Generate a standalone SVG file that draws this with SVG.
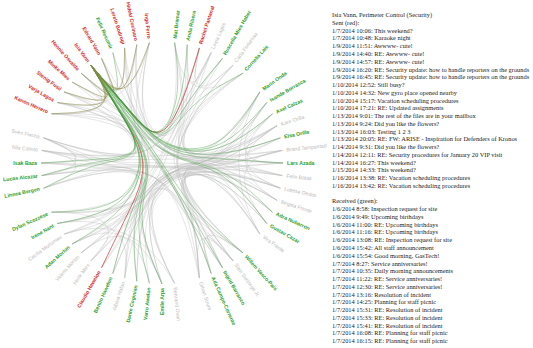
<svg xmlns="http://www.w3.org/2000/svg" width="533" height="348" viewBox="0 0 533 348">
<style>
.nodes{font-family:"Liberation Sans",Arial,sans-serif;font-size:5.2px}
.gr{fill:#bbb}
.s{fill:#2ca02c;font-weight:700}
.t{fill:#d62728;font-weight:700}
.e{text-anchor:end}
.l{fill:none;stroke:#bdbdbd;stroke-opacity:.5;stroke-width:.8}
.lg{fill:none;stroke:#3a9a3a;stroke-opacity:.5;stroke-width:.8}
.lr{fill:none;stroke:#cc3333;stroke-opacity:.8;stroke-width:.9}
.lo{fill:none;stroke:#8a8a45;stroke-opacity:.6;stroke-width:.9}
.info{font-family:"Liberation Serif","Times New Roman",serif;font-size:6.4px;fill:#222}
</style>
<rect width="533" height="348" fill="#fff"/>
<g id="links" transform="translate(162,163)">
<g id="links-all">
<path class="l" d="M-110.5,-49.2 Q-38.1,-47.2 -18.6,-25.4 Q0.8,-3.7 30.8,-2.8 Q60.9,-1.9 121,0"/>
<path class="l" d="M-110.5,-49.2 Q-42.2,-51.7 -24.8,-32.2 Q-7.3,-12.7 5.4,-37.6 Q18.2,-62.4 12.6,-120.3"/>
<path class="l" d="M-104.8,-60.5 Q-37.6,-49.4 -18.3,-27.9 Q1,-6.4 30.9,-5.8 Q60.8,-5.1 118.4,-25.2"/>
<path class="l" d="M-104.8,-60.5 Q-39.3,-44.7 -20.9,-21 Q-2.5,2.8 13.6,28 Q29.8,53.2 71.1,97.9"/>
<path class="l" d="M-97.9,-71.1 Q-45.8,-49.6 -31.1,-27.5 Q-16.4,-5.3 -42.6,-4 Q-68.7,-2.7 -121,0"/>
<path class="l" d="M-97.9,-71.1 Q-36.7,-50.1 -17.5,-28.2 Q1.7,-6.3 31.5,-5.2 Q61.3,-4.1 120.3,-12.6"/>
<path class="l" d="M-89.9,-81 Q-35.8,-50.3 -16.8,-27.7 Q2.3,-5.1 31.9,-3.4 Q61.6,-1.6 120.3,12.6"/>
<path class="l" d="M-89.9,-81 Q-44,-48.1 -29,-24.4 Q-14.1,-0.7 -27.1,24.4 Q-40.1,49.5 -97.9,71.1"/>
<path class="l" d="M-81,-89.9 Q-37.5,-47.6 -19.9,-23 Q-2.4,1.5 12.9,27.6 Q28.2,53.6 49.2,110.5"/>
<path class="l" d="M-81,-89.9 Q-37.5,-55.9 -19.9,-35.4 Q-2.4,-15 10.5,-38.9 Q23.4,-62.8 49.2,-110.5"/>
<path class="l" d="M-60.5,-104.8 Q-32.7,-54.8 -14.3,-32.7 Q4.1,-10.7 33.1,-9.4 Q62.1,-8.1 115.1,-37.4"/>
<path class="l" d="M-60.5,-104.8 Q-41.5,-53.9 -27.5,-31.3 Q-13.6,-8.8 -40.4,-7.1 Q-67.2,-5.3 -120.3,-12.6"/>
<path class="l" d="M-49.2,-110.5 Q-31.4,-52.6 -13.3,-29.1 Q4.9,-5.5 33.7,-2.7 Q62.5,0.1 115.1,37.4"/>
<path class="l" d="M-37.4,-115.1 Q-33,-50.2 -16.5,-25.1 Q0,0 14.3,26.6 Q28.5,53.1 37.4,115.1"/>
<path class="l" d="M-37.4,-115.1 Q-35.8,-50.2 -20.7,-25.1 Q-5.6,0 -18.5,26.6 Q-31.3,53.1 -37.4,115.1"/>
<path class="l" d="M-25.2,-118.4 Q-30.4,-58.6 -13.5,-37.4 Q3.4,-16.2 15.7,-39.3 Q28,-62.5 71.1,-97.9"/>
<path class="l" d="M-25.2,-118.4 Q-28.6,-54 -10.8,-30.5 Q7,-7 35.4,-4.3 Q63.8,-1.6 118.4,25.2"/>
<path class="l" d="M-12.6,-120.3 Q-34.3,-51.5 -20.3,-26.6 Q-6.3,-1.7 -20.2,24.7 Q-34.2,51 -71.1,97.9"/>
<path class="l" d="M-12.6,-120.3 Q-27.9,-52.5 -10.8,-28.1 Q6.4,-3.7 34.2,-0.1 Q61.9,3.5 97.9,71.1"/>
<path class="l" d="M12.6,-120.3 Q25,-56.9 15.6,-29.3 Q6.3,-1.7 20.2,24.7 Q34.2,51 71.1,97.9"/>
<path class="l" d="M12.6,-120.3 Q26.8,-61 18.4,-35.5 Q10,-10 37.7,-7.9 Q65.4,-5.9 120.3,-12.6"/>
<path class="l" d="M25.2,-118.4 Q24.2,-55.8 13.5,-27.8 Q2.8,0.1 -10.3,26.9 Q-23.3,53.6 12.6,120.3"/>
<path class="l" d="M37.4,-115.1 Q28.1,-56.6 18.5,-29.3 Q8.9,-1.9 22.6,24.2 Q36.2,50.3 81,89.9"/>
<path class="l" d="M49.2,-110.5 Q22,-60.4 8.4,-35.3 Q-5.2,-10.2 -34,-8.6 Q-62.9,-7 -118.4,-25.2"/>
<path class="l" d="M49.2,-110.5 Q23.4,-56.1 10.5,-28.8 Q-2.4,-1.5 -17.7,24.5 Q-33,50.5 -81,89.9"/>
<path class="l" d="M60.5,-104.8 Q32.3,-58.8 22.9,-33.3 Q13.6,-7.9 40.5,-5.9 Q67.3,-3.9 121,0"/>
<path class="l" d="M71.1,-97.9 Q31.2,-54.1 20.5,-26.8 Q9.9,0.5 22.5,26.6 Q35.2,52.6 60.5,104.8"/>
<path class="l" d="M81,-89.9 Q26.7,-54.1 13,-27.4 Q-0.7,-0.7 -16.7,24.8 Q-32.8,50.3 -89.9,81"/>
<path class="l" d="M81,-89.9 Q34.3,-58.5 24.5,-34 Q14.7,-9.5 41.1,-8.6 Q67.4,-7.6 115.1,-37.4"/>
<path class="l" d="M-118.4,-25.2 Q-61.1,-5.5 -31.3,-6.4 Q-1.5,-7.2 28.2,-8.1 Q58,-9 97.9,-71.1"/>
<path class="l" d="M-118.4,-25.2 Q-65.7,1.6 -38.2,4.3 Q-10.8,7 -21.9,31.9 Q-33,56.9 -25.2,118.4"/>
<path class="l" d="M-120.3,-12.6 Q-60.4,-0.9 -30.2,-0.5 Q0,0 30.2,0.5 Q60.4,0.9 120.3,12.6"/>
<path class="l" d="M-120.3,-12.6 Q-63.5,2.9 -34.9,5.3 Q-6.2,7.7 9.6,32.4 Q25.4,57 37.4,115.1"/>
<path class="l" d="M-121,0 Q-65,4.5 -37.1,6.8 Q-9.1,9.1 -19.7,33.6 Q-30.2,58.1 0,121"/>
<path class="l" d="M-121,0 Q-60.7,1.4 -30.6,2.1 Q-0.4,2.8 29.7,3.5 Q59.8,4.2 115.1,37.4"/>
<path class="l" d="M-120.3,12.6 Q-60.8,3.3 -30.8,4 Q-0.7,4.6 29.3,5.3 Q59.3,6 110.5,49.2"/>
<path class="l" d="M-120.3,12.6 Q-66.8,5.6 -39.8,7.4 Q-12.7,9.2 -24.2,33.3 Q-35.8,57.4 -49.2,110.5"/>
<path class="l" d="M-118.4,25.2 Q-60.3,3.8 -30.1,3.8 Q0,3.8 30.1,3.8 Q60.3,3.8 118.4,25.2"/>
<path class="l" d="M-118.4,25.2 Q-62.1,6.5 -32.8,7.9 Q-3.5,9.2 12.9,32.9 Q29.3,56.5 71.1,97.9"/>
<path class="l" d="M12.6,120.3 Q-20.6,55.4 -6.2,29.5 Q8.3,3.7 35.6,0.1 Q62.9,-3.5 97.9,-71.1"/>
<path class="l" d="M0,121 Q-21.4,56.7 -6.4,31.5 Q8.6,6.3 36.5,3.3 Q64.4,0.3 115.1,-37.4"/>
<path class="l" d="M-12.6,120.3 Q-22.7,59 -7.4,35 Q7.9,10.9 36.1,9.1 Q64.3,7.4 118.4,25.2"/>
<path class="l" d="M-25.2,118.4 Q-24,57.4 -8.5,32.7 Q7.1,7.9 35.6,5.5 Q64,3 120.3,-12.6"/>
<path class="l" d="M-37.4,115.1 Q-26,55.2 -10.5,29.7 Q5.1,4.1 33.4,0.8 Q61.8,-2.5 104.8,-60.5"/>
<path class="l" d="M-49.2,110.5 Q-27.3,59.2 -11.6,36 Q4.2,12.8 32.8,11.9 Q61.3,11 104.8,60.5"/>
<path class="l" d="M-71.1,97.9 Q-29.3,54.6 -12.9,30 Q3.5,5.4 32.8,3.1 Q62.1,0.8 118.4,-25.2"/>
<path class="l" d="M-81,89.9 Q-30.7,52.8 -14.2,27.9 Q2.2,3 31.5,0.4 Q60.8,-2.2 110.5,-49.2"/>
<path class="l" d="M-97.9,71.1 Q-33,55.2 -16.5,32.9 Q0,10.7 29.4,10.7 Q58.7,10.7 97.9,71.1"/>
<path class="l" d="M-104.8,60.5 Q-33,51.8 -15.9,28.6 Q1.2,5.5 31.1,4.6 Q61,3.7 120.3,12.6"/>
<path class="l" d="M-110.5,49.2 Q-33.8,51.5 -16.7,29 Q0.4,6.5 30.3,6.3 Q60.2,6.1 115.1,37.4"/>
<path class="l" d="M-60.5,104.8 Q-29.5,59.7 -14,37.1 Q1.5,14.6 17.1,36.6 Q32.6,58.5 81,89.9"/>
<path class="l" d="M-89.9,81 Q-33.5,57.6 -17.9,35.8 Q-2.2,13.9 13.5,36.6 Q29.1,59.3 60.5,104.8"/>
<path class="l" d="M71.1,97.9 Q38.3,55.5 26.3,31.4 Q14.4,7.3 41.1,5.5 Q67.7,3.7 121,0"/>
<path class="l" d="M81,89.9 Q38.8,52.3 26.4,27.3 Q13.9,2.2 40.1,-0.6 Q66.2,-3.4 104.8,-60.5"/>
<path class="l" d="M37.4,115.1 Q34,59.3 22.6,35.8 Q11.1,12.3 38.2,11.1 Q65.2,9.9 110.5,49.2"/>
<path class="l" d="M49.2,110.5 Q35.6,55.5 24,30.5 Q12.3,5.5 39.3,2.7 Q66.2,-0.1 115.1,-37.4"/>
<path class="l" d="M-110.5,-49.2 Q-39.6,-43.8 -20.9,-20.4 Q-2.2,3 14.2,27.9 Q30.7,52.8 81,89.9"/>
<path class="l" d="M-104.8,-60.5 Q-46.5,-47.9 -31.7,-25.8 Q-16.9,-3.6 -42.9,-2.2 Q-68.9,-0.9 -120.3,12.6"/>
<path class="l" d="M-97.9,-71.1 Q-41.2,-45.1 -24.3,-20.7 Q-7.3,3.7 -18.4,29.6 Q-29.4,55.5 0,121"/>
<path class="l" d="M-89.9,-81 Q-38.9,-55 -21.4,-34.9 Q-3.9,-14.7 8.9,-38.9 Q21.7,-63 37.4,-115.1"/>
<path class="l" d="M-81,-89.9 Q-35.7,-54.4 -17.2,-33.2 Q1.3,-12.1 30.3,-11.7 Q59.4,-11.4 97.9,-71.1"/>
<path class="l" d="M-60.5,-104.8 Q-41.2,-51.5 -27,-27.9 Q-12.8,-4.2 -26.6,21 Q-40.4,46.1 -110.5,49.2"/>
<path class="l" d="M-49.2,-110.5 Q-33.5,-58 -16.3,-37.1 Q0.8,-16.1 13.4,-39.5 Q25.9,-62.9 60.5,-104.8"/>
<path class="l" d="M-37.4,-115.1 Q-29.9,-54.6 -11.8,-31.6 Q6.3,-8.6 35,-6.5 Q63.6,-4.3 121,0"/>
<path class="l" d="M-25.2,-118.4 Q-37.6,-55.4 -24.2,-32.6 Q-10.9,-9.8 -38.4,-7.8 Q-65.9,-5.9 -120.3,-12.6"/>
<path class="l" d="M-12.6,-120.3 Q-27.5,-57 -10.1,-34.9 Q7.3,-12.7 35.4,-11.4 Q63.4,-10.1 110.5,-49.2"/>
<path class="l" d="M25.2,-118.4 Q27.7,-58.1 18.7,-31.2 Q9.8,-4.3 37,-1 Q64.1,2.4 104.8,60.5"/>
<path class="l" d="M37.4,-115.1 Q20.7,-60.9 7.3,-35.7 Q-6.1,-10.5 -34.7,-8.9 Q-63.3,-7.2 -118.4,-25.2"/>
<path class="l" d="M49.2,-110.5 Q30.9,-60.4 21.7,-35.3 Q12.6,-10.2 39.6,-8.6 Q66.6,-7 118.4,-25.2"/>
<path class="l" d="M71.1,-97.9 Q33.4,-57.5 23.9,-32 Q14.4,-6.4 41,-4.3 Q67.6,-2.3 120.3,12.6"/>
<path class="l" d="M81,-89.9 Q31.4,-52.8 20.2,-25.5 Q8.9,1.9 20.9,28 Q32.9,54.1 37.4,115.1"/>
<path class="l" d="M60.5,-104.8 Q23.8,-56.5 10.2,-29.9 Q-3.3,-3.3 -19.3,22 Q-35.2,47.4 -104.8,60.5"/>
<path class="l" d="M-118.4,-25.2 Q-61.1,-0.2 -31.3,1.6 Q-1.5,3.4 28.2,5.3 Q58,7.1 97.9,71.1"/>
<path class="l" d="M-120.3,-12.6 Q-60.6,-2.8 -30.5,-3.3 Q-0.4,-3.7 29.7,-4.2 Q59.9,-4.7 115.1,-37.4"/>
<path class="l" d="M-121,0 Q-68.7,2.7 -42.6,4 Q-16.4,5.3 -28.8,28.9 Q-41.3,52.5 -97.9,71.1"/>
<path class="l" d="M-120.3,12.6 Q-62.7,5.3 -33.6,7.1 Q-4.5,8.8 11.8,32.8 Q28,56.8 60.5,104.8"/>
<path class="l" d="M-118.4,25.2 Q-66.1,7.2 -38.9,8.9 Q-11.7,10.5 -23,34.5 Q-34.3,58.4 -37.4,115.1"/>
<path class="l" d="M12.6,120.3 Q-20.2,59.9 -5.5,36.3 Q9.2,12.7 36.8,11.4 Q64.3,10.1 110.5,49.2"/>
<path class="l" d="M0,121 Q-21.2,58.1 -6,33.6 Q9.1,9.1 37.1,6.8 Q65,4.5 121,0"/>
<path class="l" d="M-25.2,118.4 Q-24.6,55.6 -9.3,30 Q6,4.3 34.1,1 Q62.2,-2.4 104.8,-60.5"/>
<path class="l" d="M-49.2,110.5 Q-26.8,57.9 -10.8,34 Q5.2,10.2 34,8.6 Q62.9,7 118.4,25.2"/>
<path class="l" d="M-71.1,97.9 Q-29.8,57.8 -13.6,34.8 Q2.5,11.9 31.5,11.2 Q60.5,10.5 104.8,60.5"/>
<path class="l" d="M-81,89.9 Q-30.3,54.1 -13.7,30 Q2.9,5.8 32.4,3.9 Q61.9,2 120.3,-12.6"/>
<path class="l" d="M-89.9,81 Q-31.3,54.1 -14.5,30.6 Q2.3,7 31.9,5.7 Q61.6,4.5 120.3,12.6"/>
<path class="l" d="M-104.8,60.5 Q-33.2,49.9 -16.2,25.8 Q0.8,1.7 30.6,-0.1 Q60.4,-1.9 115.1,-37.4"/>
<path class="l" d="M-110.5,49.2 Q-34.5,52.7 -17.7,30.9 Q-0.9,9 28.7,9.5 Q58.3,9.9 97.9,71.1"/>
<path class="l" d="M-60.5,104.8 Q-28.8,53.6 -13,28.1 Q2.8,2.5 31.5,-0.8 Q60.1,-4.1 97.9,-71.1"/>
<path class="l" d="M37.4,115.1 Q34.3,56.5 23,31.6 Q11.7,6.7 38.9,4.1 Q66.1,1.5 118.4,-25.2"/>
<path class="l" d="M60.5,104.8 Q36.8,57.7 25,34.2 Q13.2,10.7 39.9,9.4 Q66.6,8.1 115.1,37.4"/>
<path class="l" d="M71.1,97.9 Q37.9,53.7 25.7,28.7 Q13.6,3.6 40.1,0.9 Q66.5,-1.9 110.5,-49.2"/>
<path class="l" d="M49.2,110.5 Q35.7,57.9 24.1,34 Q12.6,10.2 39.6,8.6 Q66.6,7 118.4,25.2"/>
<path class="l" d="M81,89.9 Q39.3,54.1 27.2,30 Q15.1,5.8 41.5,3.9 Q68,2 120.3,-12.6"/>
<path class="l" d="M-118.4,-25.2 Q-52.7,0.8 -120.3,12.6"/>
<path class="l" d="M-120.3,-12.6 Q-52.7,-0.8 -118.4,25.2"/>
<path class="l" d="M-121,0 Q-52.6,1.7 -118.4,-25.2"/>
<path class="l" d="M97.9,-71.1 Q55.5,0 97.9,71.1"/>
<path class="l" d="M115.1,-37.4 Q53,0.8 118.4,25.2"/>
<path class="l" d="M120.3,-12.6 Q53.6,-3.2 104.8,60.5"/>
<path class="l" d="M110.5,-49.2 Q53.5,0.8 115.1,37.4"/>
<path class="l" d="M104.8,-60.5 Q53.5,4 121,0"/>
<path class="l" d="M12.6,120.3 Q-28.6,46.6 -97.9,71.1"/>
<path class="l" d="M-71.1,97.9 Q-22.2,49.6 -110.5,49.2"/>
<path class="l" d="M0,121 Q-28.9,45.3 -81,89.9"/>
<path class="l" d="M-37.4,115.1 Q-24.8,47.7 -104.8,60.5"/>
<path class="l" d="M-12.6,120.3 Q-27.4,46 -89.9,81"/>
<path class="l" d="M-110.5,-49.2 Q-27.5,-46.2 -81,-89.9"/>
<path class="l" d="M-97.9,-71.1 Q-31.3,-43.1 -37.4,-115.1"/>
<path class="l" d="M-104.8,-60.5 Q-32.5,-43.4 -12.6,-120.3"/>
<path class="l" d="M-81,-89.9 Q-33.2,-41.6 -25.2,-118.4"/>
<path class="l" d="M-60.5,-104.8 Q-28.9,-45.2 -110.5,-49.2"/>
<path class="l" d="M12.6,-120.3 Q21.7,-48.6 81,-89.9"/>
<path class="l" d="M49.2,-110.5 Q22.9,-47.4 25.2,-118.4"/>
<path class="l" d="M37.4,-115.1 Q20.7,-48.4 71.1,-97.9"/>
<path class="l" d="M71.1,97.9 Q27.1,45.2 37.4,115.1"/>
<path class="l" d="M81,89.9 Q25.6,46 49.2,110.5"/>
<path class="l" d="M60.5,104.8 Q25.5,45.9 71.1,97.9"/>
</g>
<g id="links-isia">
<path class="lr" d="M-71.1,-97.9 L-36.8,-56.9 C-25.4,-43.3 -13.9,-29.6 -4.1,-30.7 C5.8,-31.9 14.1,-47.7 20.8,-64.3 C27.4,-80.8 32.4,-98 34.9,-106.5 L37.4,-115.1"/>
<path class="lr" d="M-71.1,-97.9 L-40.5,-48.7 C-30.3,-32.3 -20.1,-15.9 -19.2,1 C-18.3,17.9 -26.8,35.3 -35.2,52.6 C-43.6,70 -52.1,87.4 -56.3,96.1 L-60.5,104.8"/>
<path class="lg" d="M-71.1,-97.9 L-37.7,-57.1 C-26.6,-43.5 -15.5,-29.9 -5.9,-31.1 C3.6,-32.3 11.6,-48.3 14.5,-65.6 C17.3,-82.9 14.9,-101.6 13.8,-111 L12.6,-120.3"/>
<path class="lg" d="M-71.1,-97.9 L-37.3,-57 C-26,-43.4 -14.7,-29.8 -5,-31 C4.7,-32.1 12.9,-48.1 17.7,-65.1 C22.5,-82.1 23.8,-100.3 24.5,-109.3 L25.2,-118.4"/>
<path class="lg" d="M-71.1,-97.9 L-35.9,-56.5 C-24.2,-42.7 -12.5,-29 -2.3,-30 C7.8,-31 16.4,-46.7 26.7,-61.6 C36.9,-76.6 48.7,-90.7 54.6,-97.7 L60.5,-104.8"/>
<path class="lg" d="M-71.1,-97.9 L-35.2,-56 C-23.2,-42 -11.2,-28 -0.8,-28.8 C9.6,-29.7 18.5,-45.2 31.9,-57.9 C45.2,-70.5 63.1,-80.2 72.1,-85.1 L81,-89.9"/>
<path class="lg" d="M-71.1,-97.9 L-34.5,-55.3 C-22.3,-41.1 -10.2,-26.9 5.6,-19.6 C21.3,-12.4 40.5,-12 56.5,-21.8 C72.5,-31.5 85.2,-51.3 91.5,-61.2 L97.9,-71.1"/>
<path class="lg" d="M-71.1,-97.9 L-34.3,-54.9 C-22,-40.5 -9.7,-26.2 6.1,-18.8 C21.9,-11.4 41.2,-10.9 58.2,-19.1 C75.3,-27.2 90,-43.8 97.4,-52.2 L104.8,-60.5"/>
<path class="lg" d="M-71.1,-97.9 L-34.1,-54.5 C-21.7,-40 -9.4,-25.5 6.5,-18 C22.4,-10.4 41.8,-9.8 59.7,-16.2 C77.6,-22.6 94.1,-35.9 102.3,-42.5 L110.5,-49.2"/>
<path class="lg" d="M-71.1,-97.9 L-33.8,-53.6 C-21.3,-38.8 -8.9,-24 7.1,-16.2 C23.1,-8.3 42.6,-7.4 61.7,-10.1 C80.8,-12.7 99.6,-19 109,-22.1 L118.4,-25.2"/>
<path class="lg" d="M-71.1,-97.9 L-33.7,-52.6 C-21.2,-37.5 -8.7,-22.4 7.3,-14.3 C23.3,-6.1 42.8,-4.9 62.4,-3.7 C81.9,-2.5 101.5,-1.2 111.2,-0.6 L121,0"/>
<path class="lg" d="M-71.1,-97.9 L-34.1,-50.8 C-21.7,-35 -9.4,-19.3 6.5,-10.6 C22.4,-1.8 41.8,0 59.7,8.9 C77.6,17.7 94.1,33.4 102.3,41.3 L110.5,49.2"/>
<path class="lg" d="M-71.1,-97.9 L-34.3,-50.3 C-22,-34.5 -9.7,-18.6 6.1,-9.7 C21.9,-0.8 41.2,1.2 58.2,11.7 C75.3,22.3 90,41.4 97.4,50.9 L104.8,60.5"/>
<path class="lg" d="M-71.1,-97.9 L-35.2,-49.2 C-23.2,-33 -11.2,-16.8 0,-0.1 C11.2,16.6 21.7,33.8 35.1,48.9 C48.4,63.9 64.7,76.9 72.9,83.4 L81,89.9"/>
<path class="lg" d="M-71.1,-97.9 L-35.9,-48.7 C-24.2,-32.3 -12.5,-15.9 -1.5,1 C9.4,17.9 19.6,35.3 29.9,52.6 C40.1,70 50.3,87.4 55.4,96.1 L60.5,104.8"/>
<path class="lg" d="M-71.1,-97.9 L-36.4,-48.5 C-24.8,-32 -13.2,-15.5 -2.4,1.4 C8.4,18.4 18.5,35.8 27,54.1 C35.5,72.3 42.3,91.4 45.8,101 L49.2,110.5"/>
<path class="lg" d="M-71.1,-97.9 L-38.2,-48.1 C-27.2,-31.5 -16.3,-14.8 -14.6,2.2 C-13,19.3 -20.7,36.9 -19.8,56.8 C-18.9,76.6 -9.5,98.8 -4.7,109.9 L0,121"/>
<path class="lg" d="M-71.1,-97.9 L-38.7,-48.1 C-27.9,-31.5 -17.1,-14.9 -15.6,2.2 C-14.1,19.2 -22,36.8 -23,56.6 C-24.1,76.3 -18.3,98.3 -15.5,109.3 L-12.6,120.3"/>
<path class="lg" d="M-71.1,-97.9 L-39.2,-48.2 C-28.5,-31.6 -17.9,-15 -16.5,2 C-15.2,19.1 -23.2,36.6 -26.2,56.1 C-29.2,75.6 -27.2,97 -26.2,107.7 L-25.2,118.4"/>
<path class="lg" d="M-71.1,-97.9 L-40.1,-48.5 C-29.7,-32 -19.4,-15.5 -18.3,1.4 C-17.3,18.4 -25.6,35.8 -32.3,54.1 C-39,72.3 -44.1,91.4 -46.7,101 L-49.2,110.5"/>
<path class="lg" d="M-71.1,-97.9 L-41.6,-49.6 C-31.7,-33.5 -21.9,-17.3 -21.4,-0.8 C-20.9,15.8 -29.7,32.9 -42.7,46.6 C-55.6,60.3 -72.8,70.7 -81.3,75.8 L-89.9,81"/>
<path class="lg" d="M-71.1,-97.9 L-42.1,-50.3 C-32.5,-34.5 -22.8,-18.6 -22.5,-2.3 C-22.2,14 -31.2,30.8 -46.4,41.4 C-61.7,51.9 -83.3,56.2 -94,58.4 L-104.8,60.5"/>
<path class="lg" d="M-71.1,-97.9 L-42.3,-50.8 C-32.8,-35 -23.2,-19.3 -22.9,-3.2 C-22.7,13 -31.7,29.7 -47.9,38.5 C-64,47.3 -87.3,48.3 -98.9,48.7 L-110.5,49.2"/>
<path class="lg" d="M-71.1,-97.9 L-42.6,-51.7 C-33.2,-36.2 -23.7,-20.8 -27.8,-12.4 C-31.9,-3.9 -49.7,-2.4 -67,2.7 C-84.4,7.9 -101.4,16.5 -109.9,20.9 L-118.4,25.2"/>
<path class="lg" d="M-71.1,-97.9 L-42.7,-52.1 C-33.2,-36.9 -23.8,-21.6 -28,-13.3 C-32.1,-5 -49.9,-3.6 -67.5,-0.5 C-85.2,2.7 -102.7,7.6 -111.5,10.1 L-120.3,12.6"/>
<path class="lg" d="M-71.1,-97.9 L-42.7,-52.6 C-33.3,-37.5 -23.8,-22.4 -28,-14.3 C-32.2,-6.1 -49.9,-4.9 -67.7,-3.7 C-85.5,-2.5 -103.2,-1.2 -112.1,-0.6 L-121,0"/>
<path class="lg" d="M-71.1,-97.9 L-65.8,-91.1 C-60.5,-84.3 -49.8,-70.8 -46.2,-72.9 C-42.5,-75 -45.9,-92.7 -47.5,-101.6 L-49.2,-110.5"/>
<path class="lo" d="M-71.1,-97.9 L-66.6,-90.4 C-62,-82.8 -52.9,-67.7 -59.5,-59.6 C-66,-51.5 -88.3,-50.3 -99.4,-49.8 L-110.5,-49.2"/>
<path class="lo" d="M-71.1,-97.9 L-66.5,-90.5 C-61.9,-83.1 -52.6,-68.3 -58.2,-62 C-63.8,-55.8 -84.3,-58.2 -94.6,-59.3 L-104.8,-60.5"/>
<path class="lo" d="M-71.1,-97.9 L-66.4,-90.6 C-61.7,-83.4 -52.3,-68.8 -56.7,-64.3 C-61.2,-59.9 -79.6,-65.5 -88.7,-68.3 L-97.9,-71.1"/>
<path class="lo" d="M-71.1,-97.9 L-66.3,-90.7 C-61.5,-83.6 -51.9,-69.3 -55,-66.5 C-58.1,-63.7 -74,-72.3 -82,-76.7 L-89.9,-81"/>
<path class="lo" d="M-71.1,-97.9 L-66.2,-90.9 C-61.3,-83.8 -51.4,-69.7 -53.1,-68.4 C-54.7,-67.1 -67.9,-78.5 -74.4,-84.2 L-81,-89.9"/>
<path class="lo" d="M-71.1,-97.9 L-65.9,-91 C-60.8,-84.2 -50.4,-70.5 -48.6,-71.6 C-46.9,-72.8 -53.7,-88.8 -57.1,-96.8 L-60.5,-104.8"/>
<path class="lo" d="M-71.1,-97.9 L-65.6,-91.2 C-60.2,-84.5 -49.2,-71 -43.6,-73.9 C-38,-76.7 -37.7,-95.9 -37.6,-105.5 L-37.4,-115.1"/>
<path class="lo" d="M-71.1,-97.9 L-65.5,-91.2 C-59.9,-84.5 -48.6,-71.2 -41,-74.6 C-33.3,-78 -29.3,-98.2 -27.2,-108.3 L-25.2,-118.4"/>
<path class="lo" d="M-71.1,-97.9 L-65.3,-91.2 C-59.6,-84.6 -48,-71.2 -38.3,-75 C-28.5,-78.7 -20.6,-99.5 -16.6,-109.9 L-12.6,-120.3"/>
</g>
</g>
<g id="nodes" class="nodes" transform="translate(162,163)">
<g id="n-mat-bramar"><text class="s" transform="rotate(-84) translate(125,0)" dy=".31em">Mat Bramar</text></g>
<g id="n-anda-ribera"><text class="s" transform="rotate(-78) translate(125,0)" dy=".31em">Anda Ribera</text></g>
<g id="n-rachel-pantanal"><text class="t" transform="rotate(-72) translate(125,0)" dy=".31em">Rachel Pantanal</text></g>
<g id="n-linda-lagos"><text class="gr" transform="rotate(-66) translate(125,0)" dy=".31em">Linda Lagos</text></g>
<g id="n-ruscella-mies-haber"><text class="s" transform="rotate(-60) translate(125,0)" dy=".31em">Ruscella Mies Haber</text></g>
<g id="n-carla-forluniau"><text class="gr" transform="rotate(-54) translate(125,0)" dy=".31em">Carla Forluniau</text></g>
<g id="n-cornelia-lais"><text class="s" transform="rotate(-48) translate(125,0)" dy=".31em">Cornelia Lais</text></g>
<g id="n-marin-onda"><text class="s" transform="rotate(-36) translate(125,0)" dy=".31em">Marin Onda</text></g>
<g id="n-isande-borrasca"><text class="s" transform="rotate(-30) translate(125,0)" dy=".31em">Isande Borrasca</text></g>
<g id="n-axel-calzas"><text class="s" transform="rotate(-24) translate(125,0)" dy=".31em">Axel Calzas</text></g>
<g id="n-kare-orilla"><text class="gr" transform="rotate(-18) translate(125,0)" dy=".31em">Kare Orilla</text></g>
<g id="n-elsa-orilla"><text class="s" transform="rotate(-12) translate(125,0)" dy=".31em">Elsa Orilla</text></g>
<g id="n-brand-tempestad"><text class="gr" transform="rotate(-6) translate(125,0)" dy=".31em">Brand Tempestad</text></g>
<g id="n-lars-azada"><text class="s" transform="rotate(0) translate(125,0)" dy=".31em">Lars Azada</text></g>
<g id="n-felix-balas"><text class="gr" transform="rotate(6) translate(125,0)" dy=".31em">Felix Balas</text></g>
<g id="n-lidelse-dedos"><text class="gr" transform="rotate(12) translate(125,0)" dy=".31em">Lidelse Dedos</text></g>
<g id="n-birgitta-frente"><text class="gr" transform="rotate(18) translate(125,0)" dy=".31em">Birgitta Frente</text></g>
<g id="n-adra-nubarron"><text class="s" transform="rotate(24) translate(125,0)" dy=".31em">Adra Nubarron</text></g>
<g id="n-gustav-cazar"><text class="s" transform="rotate(30) translate(125,0)" dy=".31em">Gustav Cazar</text></g>
<g id="n-vira-frente"><text class="gr" transform="rotate(36) translate(125,0)" dy=".31em">Vira Frente</text></g>
<g id="n-willem-vasco-pais"><text class="s" transform="rotate(48) translate(125,0)" dy=".31em">Willem Vasco-Pais</text></g>
<g id="n-sten-sanjorge"><text class="gr" transform="rotate(54) translate(125,0)" dy=".31em">Sten Sanjorge Jr.</text></g>
<g id="n-ingrid-barranco"><text class="s" transform="rotate(60) translate(125,0)" dy=".31em">Ingrid Barranco</text></g>
<g id="n-ada-campo-corrente"><text class="s" transform="rotate(66) translate(125,0)" dy=".31em">Ada Campo-Corrente</text></g>
<g id="n-orhan-strum"><text class="gr" transform="rotate(72) translate(125,0)" dy=".31em">Orhan Strum</text></g>
<g id="n-bertrand-ovan"><text class="gr" transform="rotate(84) translate(125,0)" dy=".31em">Bertrand Ovan</text></g>
<g id="n-emile-arpa"><text class="s e" transform="rotate(90) translate(125,0) rotate(180)" dy=".31em">Emile Arpa</text></g>
<g id="n-varro-awelon"><text class="s e" transform="rotate(96) translate(125,0) rotate(180)" dy=".31em">Varro Awelon</text></g>
<g id="n-dante-coginian"><text class="s e" transform="rotate(102) translate(125,0) rotate(180)" dy=".31em">Dante Coginian</text></g>
<g id="n-albina-hafon"><text class="gr e" transform="rotate(108) translate(125,0) rotate(180)" dy=".31em">Albina Hafon</text></g>
<g id="n-benito-hawelon"><text class="s e" transform="rotate(114) translate(125,0) rotate(180)" dy=".31em">Benito Hawelon</text></g>
<g id="n-claudio-hawelon"><text class="t e" transform="rotate(120) translate(125,0) rotate(180)" dy=".31em">Claudio Hawelon</text></g>
<g id="n-henk-mies"><text class="gr e" transform="rotate(126) translate(125,0) rotate(180)" dy=".31em">Henk Mies</text></g>
<g id="n-valeria-morlun"><text class="gr e" transform="rotate(132) translate(125,0) rotate(180)" dy=".31em">Valeria Morlun</text></g>
<g id="n-adan-morlun"><text class="s e" transform="rotate(138) translate(125,0) rotate(180)" dy=".31em">Adan Morlun</text></g>
<g id="n-cecilia-morluniau"><text class="gr e" transform="rotate(144) translate(125,0) rotate(180)" dy=".31em">Cecilia Morluniau</text></g>
<g id="n-irene-nant"><text class="s e" transform="rotate(150) translate(125,0) rotate(180)" dy=".31em">Irene Nant</text></g>
<g id="n-dylan-scozzese"><text class="s e" transform="rotate(156) translate(125,0) rotate(180)" dy=".31em">Dylan Scozzese</text></g>
<g id="n-linnea-bergen"><text class="s e" transform="rotate(168) translate(125,0) rotate(180)" dy=".31em">Linnea Bergen</text></g>
<g id="n-lucas-alcazar"><text class="s e" transform="rotate(174) translate(125,0) rotate(180)" dy=".31em">Lucas Alcazar</text></g>
<g id="n-isak-baza"><text class="s e" transform="rotate(180) translate(125,0) rotate(180)" dy=".31em">Isak Baza</text></g>
<g id="n-nils-calixto"><text class="gr e" transform="rotate(186) translate(125,0) rotate(180)" dy=".31em">Nils Calixto</text></g>
<g id="n-sven-flecha"><text class="gr e" transform="rotate(192) translate(125,0) rotate(180)" dy=".31em">Sven Flecha</text></g>
<g id="n-kanon-herrero"><text class="t e" transform="rotate(204) translate(125,0) rotate(180)" dy=".31em">Kanon Herrero</text></g>
<g id="n-varja-lagos"><text class="t e" transform="rotate(210) translate(125,0) rotate(180)" dy=".31em">Varja Lagos</text></g>
<g id="n-stenig-fusil"><text class="t e" transform="rotate(216) translate(125,0) rotate(180)" dy=".31em">Stenig Fusil</text></g>
<g id="n-minke-mies"><text class="t e" transform="rotate(222) translate(125,0) rotate(180)" dy=".31em">Minke Mies</text></g>
<g id="n-hennie-osvaldo"><text class="t e" transform="rotate(228) translate(125,0) rotate(180)" dy=".31em">Hennie Osvaldo</text></g>
<g id="n-isia-vann"><text class="t e" transform="rotate(234) translate(125,0) rotate(180)" dy=".31em">Isia Vann</text></g>
<g id="n-edvard-vann"><text class="t e" transform="rotate(240) translate(125,0) rotate(180)" dy=".31em">Edvard Vann</text></g>
<g id="n-felix-resumir"><text class="s e" transform="rotate(246) translate(125,0) rotate(180)" dy=".31em">Felix Resumir</text></g>
<g id="n-loreto-bodrogi"><text class="t e" transform="rotate(252) translate(125,0) rotate(180)" dy=".31em">Loreto Bodrogi</text></g>
<g id="n-hideki-cocinaro"><text class="t e" transform="rotate(258) translate(125,0) rotate(180)" dy=".31em">Hideki Cocinaro</text></g>
<g id="n-inga-ferro"><text class="t e" transform="rotate(264) translate(125,0) rotate(180)" dy=".31em">Inga Ferro</text></g>
</g>
<g id="info">
<text class="info" x="332" y="17.2"><tspan x="332">Isia Vann, Perimeter Control (Security)</tspan><tspan x="332" dy="7.76">Sent (red):</tspan><tspan x="332" dy="7.76">1/7/2014 10:06: This weekend?</tspan><tspan x="332" dy="7.76">1/7/2014 10:48: Karaoke night</tspan><tspan x="332" dy="7.76">1/9/2014 11:51: Awwww- cute!</tspan><tspan x="332" dy="7.76">1/9/2014 14:40: RE: Awwww- cute!</tspan><tspan x="332" dy="7.76">1/9/2014 14:57: RE: Awwww- cute!</tspan><tspan x="332" dy="7.76">1/9/2014 16:20: RE: Security update: how to handle reporters on the grounds</tspan><tspan x="332" dy="7.76">1/9/2014 16:45: RE: Security update: how to handle reporters on the grounds</tspan><tspan x="332" dy="7.76">1/10/2014 12:52: Still busy?</tspan><tspan x="332" dy="7.76">1/10/2014 14:32: New gyro place opened nearby</tspan><tspan x="332" dy="7.76">1/10/2014 15:17: Vacation scheduling procedures</tspan><tspan x="332" dy="7.76">1/10/2014 17:21: RE: Updated assignments</tspan><tspan x="332" dy="7.76">1/13/2014 9:01: The rest of the files are in your mailbox</tspan><tspan x="332" dy="7.76">1/13/2014 9:24: Did you like the flowers?</tspan><tspan x="332" dy="7.76">1/13/2014 16:03: Testing 1 2 3</tspan><tspan x="332" dy="7.76">1/13/2014 20:05: RE: FW: ARISE - Inspiration for Defenders of Kronos</tspan><tspan x="332" dy="7.76">1/14/2014 9:31: Did you like the flowers?</tspan><tspan x="332" dy="7.76">1/14/2014 12:11: RE: Security procedures for January 20 VIP visit</tspan><tspan x="332" dy="7.76">1/14/2014 16:27: This weekend?</tspan><tspan x="332" dy="7.76">1/15/2014 14:33: This weekend?</tspan><tspan x="332" dy="7.76">1/16/2014 13:38: RE: Vacation scheduling procedures</tspan><tspan x="332" dy="7.76">1/16/2014 13:42: RE: Vacation scheduling procedures</tspan><tspan x="332" dy="15.52">Received (green):</tspan><tspan x="332" dy="7.76">1/6/2014 8:58: Inspection request for site</tspan><tspan x="332" dy="7.76">1/6/2014 9:49: Upcoming birthdays</tspan><tspan x="332" dy="7.76">1/6/2014 11:00: RE: Upcoming birthdays</tspan><tspan x="332" dy="7.76">1/6/2014 11:16: RE: Upcoming birthdays</tspan><tspan x="332" dy="7.76">1/6/2014 13:08: RE: Inspection request for site</tspan><tspan x="332" dy="7.76">1/6/2014 15:42: All staff announcement</tspan><tspan x="332" dy="7.76">1/6/2014 15:54: Good morning, GasTech!</tspan><tspan x="332" dy="7.76">1/7/2014 8:27: Service anniversaries!</tspan><tspan x="332" dy="7.76">1/7/2014 10:35: Daily morning announcements</tspan><tspan x="332" dy="7.76">1/7/2014 11:22: RE: Service anniversaries!</tspan><tspan x="332" dy="7.76">1/7/2014 12:30: RE: Service anniversaries!</tspan><tspan x="332" dy="7.76">1/7/2014 13:16: Resolution of incident</tspan><tspan x="332" dy="7.76">1/7/2014 14:25: Planning for staff picnic</tspan><tspan x="332" dy="7.76">1/7/2014 15:31: RE: Resolution of incident</tspan><tspan x="332" dy="7.76">1/7/2014 15:33: RE: Resolution of incident</tspan><tspan x="332" dy="7.76">1/7/2014 15:41: RE: Resolution of incident</tspan><tspan x="332" dy="7.76">1/7/2014 16:08: RE: Planning for staff picnic</tspan><tspan x="332" dy="7.76">1/7/2014 16:15: RE: Planning for staff picnic</tspan></text>
</g>
</svg>
